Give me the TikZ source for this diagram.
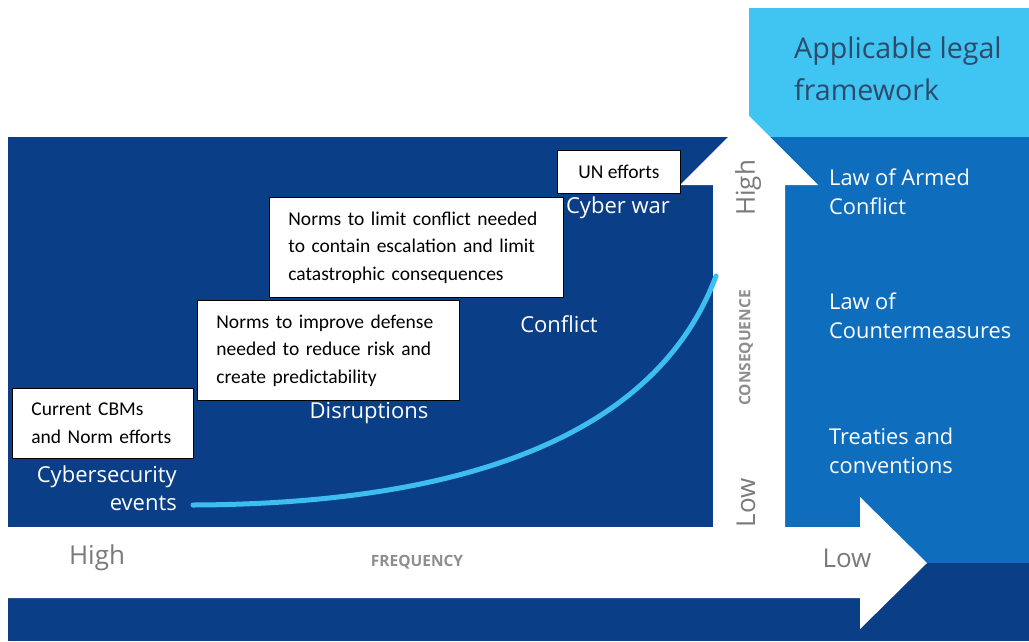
\documentclass[tikz,border=0pt]{standalone}
\usepackage{fontspec}
\setmainfont{Open Sans}
\newfontfamily\boxfont{Carlito}
\definecolor{navy}{HTML}{0A3F87}
\definecolor{midblue}{HTML}{0F6DBD}
\definecolor{skyblue}{HTML}{40C4F2}
\definecolor{curveblue}{HTML}{3EBDF0}
\definecolor{slate}{HTML}{2E4A6B}
\definecolor{axisgray}{HTML}{7A7A7A}
\tikzset{
  normbox/.style={draw=black, line width=0.8pt, fill=white, anchor=north west,
    inner xsep=19pt, inner ysep=0pt, align=left,
    font=\boxfont\fontsize{19.5}{27.5}\selectfont},
  stage/.style={text=white, inner sep=0pt, font=\fontsize{22}{28}\selectfont},
  law/.style={text=white, inner sep=0pt, anchor=west, align=left, font=\fontsize{21.8}{28.5}\selectfont},
  axislabel/.style={text=axisgray, inner sep=0pt, font=\fontsize{26}{30}\selectfont},
  axistitle/.style={text=axisgray!85, inner sep=0pt, font=\bfseries\fontsize{15.5}{18}\selectfont},
  growth/.style={draw=curveblue, line width=5pt, line cap=round}
}
\begin{document}
\begin{tikzpicture}[x=1pt,y=-1pt]
\useasboundingbox (0,0) rectangle (1029,641);
\fill[white] (0,0) rectangle (1029,641);

% coloured panels
\fill[skyblue] (749,8) rectangle (1029,137);
\fill[navy] (8,137) rectangle (749,527);
\fill[midblue] (749,137) rectangle (1029,563);
\fill[navy] (749,563) rectangle (1029,641);
\fill[navy] (8,598) rectangle (1029,641);

% consequence axis (vertical arrow)
\fill[white] (713,527) -- (713,185) -- (680,185) -- (749,116) -- (818,185)
  -- (785,185) -- (785,527) -- cycle;
% frequency axis (horizontal arrow)
\fill[white] (0,527) -- (860,527) -- (860,497) -- (927,563) -- (860,629)
  -- (860,598) -- (0,598) -- cycle;

% escalation curve
\coordinate (cstart) at (193,505);
\coordinate (cend) at (716,276);
\draw[growth] (cstart) .. controls (455,504) and (655,440) .. (cend);

% stages along the curve
\node[stage, anchor=east, align=right] (cyber) at (177,488) {Cybersecurity\\events};
\node[stage] (disrupt) at (369,413) {Disruptions};
\node[stage] (conflict) at (559,324) {Conflict};
\node[stage] (war) at (618,208) {Cyber war};

% norm efforts
\node[normbox, minimum width=181pt, minimum height=70pt, text width=143pt] (cbm) at (12,388)
  {Current CBMs\\and Norm efforts};
\node[normbox, minimum width=262pt, minimum height=100pt, text width=224pt] (defense) at (197,300)
  {Norms to improve defense\\needed to reduce risk and\\create predictability};
\node[normbox, minimum width=294pt, minimum height=100pt, text width=256pt] (limit) at (269,197)
  {Norms to limit conflict needed\\to contain escalation and limit\\catastrophic consequences};
\node[normbox, minimum width=123pt, minimum height=43pt, inner xsep=0pt, align=center] (un) at (557,150)
  {\makebox[123pt][c]{UN efforts}};

% legal framework
\node[text=slate, anchor=west, align=left, inner sep=0pt,
  font=\fontsize{28.6}{42}\selectfont] (frame) at (794,69) {Applicable legal\\framework};
\node[law] (loac) at (829,192) {Law of Armed\\Conflict};
\node[law] (counter) at (829,316) {Law of\\Countermeasures};
\node[law] (treaty) at (829,451) {Treaties and\\conventions};

% axis labels
\node[axislabel] (fhigh) at (97,558) {High};
\node[axistitle] (freq) at (417,562) {FREQUENCY};
\node[axislabel] (flow) at (847,558) {Low};
\node[axislabel, rotate=90] (chigh) at (748,188) {High};
\node[axistitle, rotate=90] (cons) at (746,348) {CONSEQUENCE};
\node[axislabel, rotate=90] (clow) at (746,503) {Low};
\end{tikzpicture}
\end{document}
